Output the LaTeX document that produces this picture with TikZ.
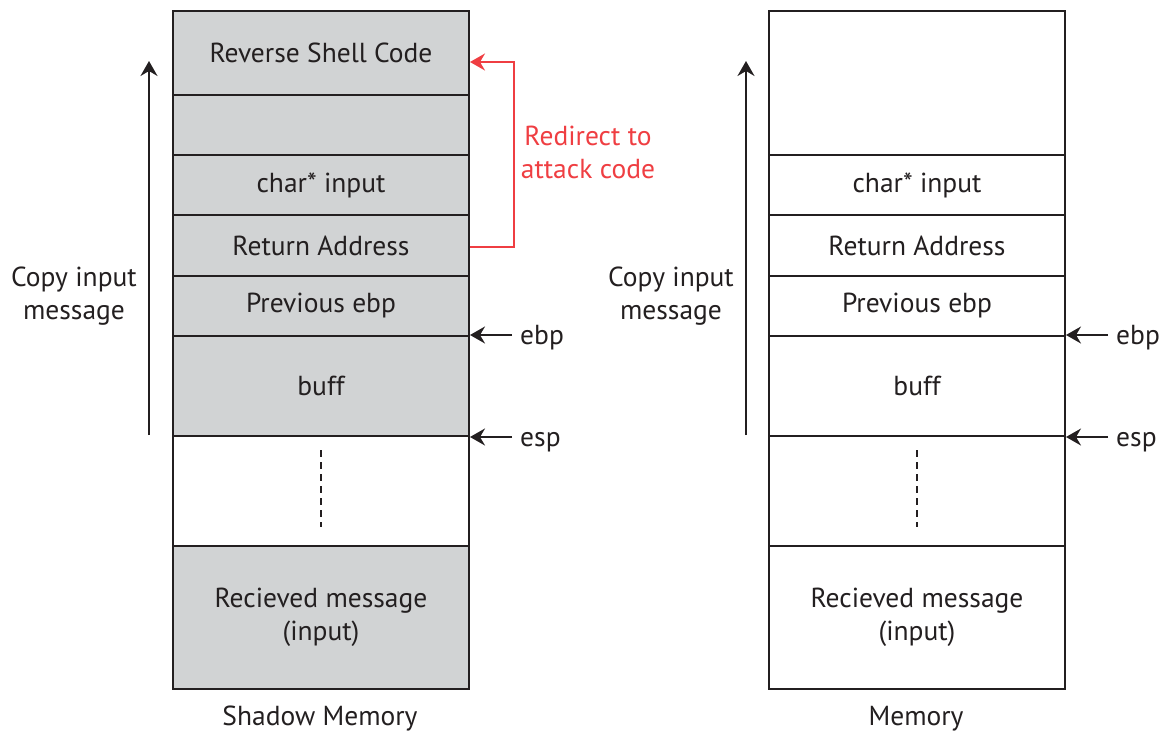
\documentclass[tikz,border=0pt]{standalone}
\usepackage{fontspec}
\setmainfont{PT Sans}
\usetikzlibrary{arrows.meta,calc}
\definecolor{shade}{HTML}{D1D3D4}
\definecolor{linkred}{HTML}{EF3E42}
\definecolor{ink}{HTML}{231F20}
\tikzset{
  cell/.style={draw=ink, line width=2pt, minimum width=296pt, anchor=north west,
    inner sep=0pt, align=center, text=ink, font=\fontsize{27.5}{33}\selectfont},
  gray cell/.style={cell, fill=shade},
  white cell/.style={cell, fill=white},
  txt/.style={text=ink, align=center, inner sep=0pt, font=\fontsize{27.5}{33}\selectfont},
  tip/.style={-{Stealth[length=15pt,width=17pt,inset=5pt]}},
  ptr/.style={draw=ink, line width=2pt, tip},
  dots/.style={draw=ink, line width=1.6pt, dash pattern=on 7pt off 5pt},
}
\begin{document}
\begin{tikzpicture}[x=1pt,y=-1pt]
\useasboundingbox (0,0) rectangle (1172,732);

% ---- shadow memory stack ----
\node[gray cell, minimum height=84pt]  (revL) at (172,10)  {Reverse Shell Code};
\node[gray cell, minimum height=60pt]  (padL) at (172,94)  {};
\node[gray cell, minimum height=60pt]  (chrL) at (172,154) {char* input};
\node[gray cell, minimum height=61pt]  (retL) at (172,214) {Return Address};
\node[gray cell, minimum height=60pt]  (prvL) at (172,275) {Previous ebp};
\node[gray cell, minimum height=100pt] (bufL) at (172,335) {buff};
\node[white cell, minimum height=110pt] (gapL) at (172,435) {};
\node[gray cell, minimum height=143pt] (rcvL) at (172,545) {Recieved message\\(input)};
\draw[dots] ($(gapL.north)+(0,15)$) -- ($(gapL.south)+(0,-20)$);
\node[txt] (capL) at (320,719) {Shadow Memory};

% ---- memory stack ----
\node[white cell, minimum height=144pt] (topR) at (768,10)  {};
\node[white cell, minimum height=60pt]  (chrR) at (768,154) {char* input};
\node[white cell, minimum height=61pt]  (retR) at (768,214) {Return Address};
\node[white cell, minimum height=60pt]  (prvR) at (768,275) {Previous ebp};
\node[white cell, minimum height=100pt] (bufR) at (768,335) {buff};
\node[white cell, minimum height=110pt] (gapR) at (768,435) {};
\node[white cell, minimum height=143pt] (rcvR) at (768,545) {Recieved message\\(input)};
\draw[dots] ($(gapR.north)+(0,15)$) -- ($(gapR.south)+(0,-20)$);
\node[txt] (capR) at (916,719) {Memory};

% ---- copy direction ----
\coordinate (upL0) at (149,435);
\coordinate (upL1) at (149,61);
\draw[ptr] (upL0) -- (upL1);
\node[txt] (cpL) at (74,296) {Copy input\\message};
\coordinate (upR0) at (746,435);
\coordinate (upR1) at (746,61);
\draw[ptr] (upR0) -- (upR1);
\node[txt] (cpR) at (671,296) {Copy input\\message};

% ---- frame pointers ----
\coordinate (ebpLa) at ($(bufL.north east)+(42,0)$);
\coordinate (espLa) at ($(bufL.south east)+(42,0)$);
\node[txt, anchor=base west] (ebpL) at ($(ebpLa)+(8,9)$) {ebp};
\node[txt, anchor=base west] (espL) at ($(espLa)+(8,9)$) {esp};
\draw[ptr] (ebpLa) -- (bufL.north east);
\draw[ptr] (espLa) -- (bufL.south east);
\coordinate (ebpRa) at ($(bufR.north east)+(42,0)$);
\coordinate (espRa) at ($(bufR.south east)+(42,0)$);
\node[txt, anchor=base west] (ebpR) at ($(ebpRa)+(8,9)$) {ebp};
\node[txt, anchor=base west] (espR) at ($(espRa)+(8,9)$) {esp};
\draw[ptr] (ebpRa) -- (bufR.north east);
\draw[ptr] (espRa) -- (bufR.south east);

% ---- hijacked return ----
\node[txt, text=linkred] (redir) at (588,152) {Redirect to\\attack code};
\draw[ptr, draw=linkred]
  ([yshift=-1pt]retL.east) -- ++(44,0) |- ([yshift=-9pt]revL.east);
\end{tikzpicture}
\end{document}
